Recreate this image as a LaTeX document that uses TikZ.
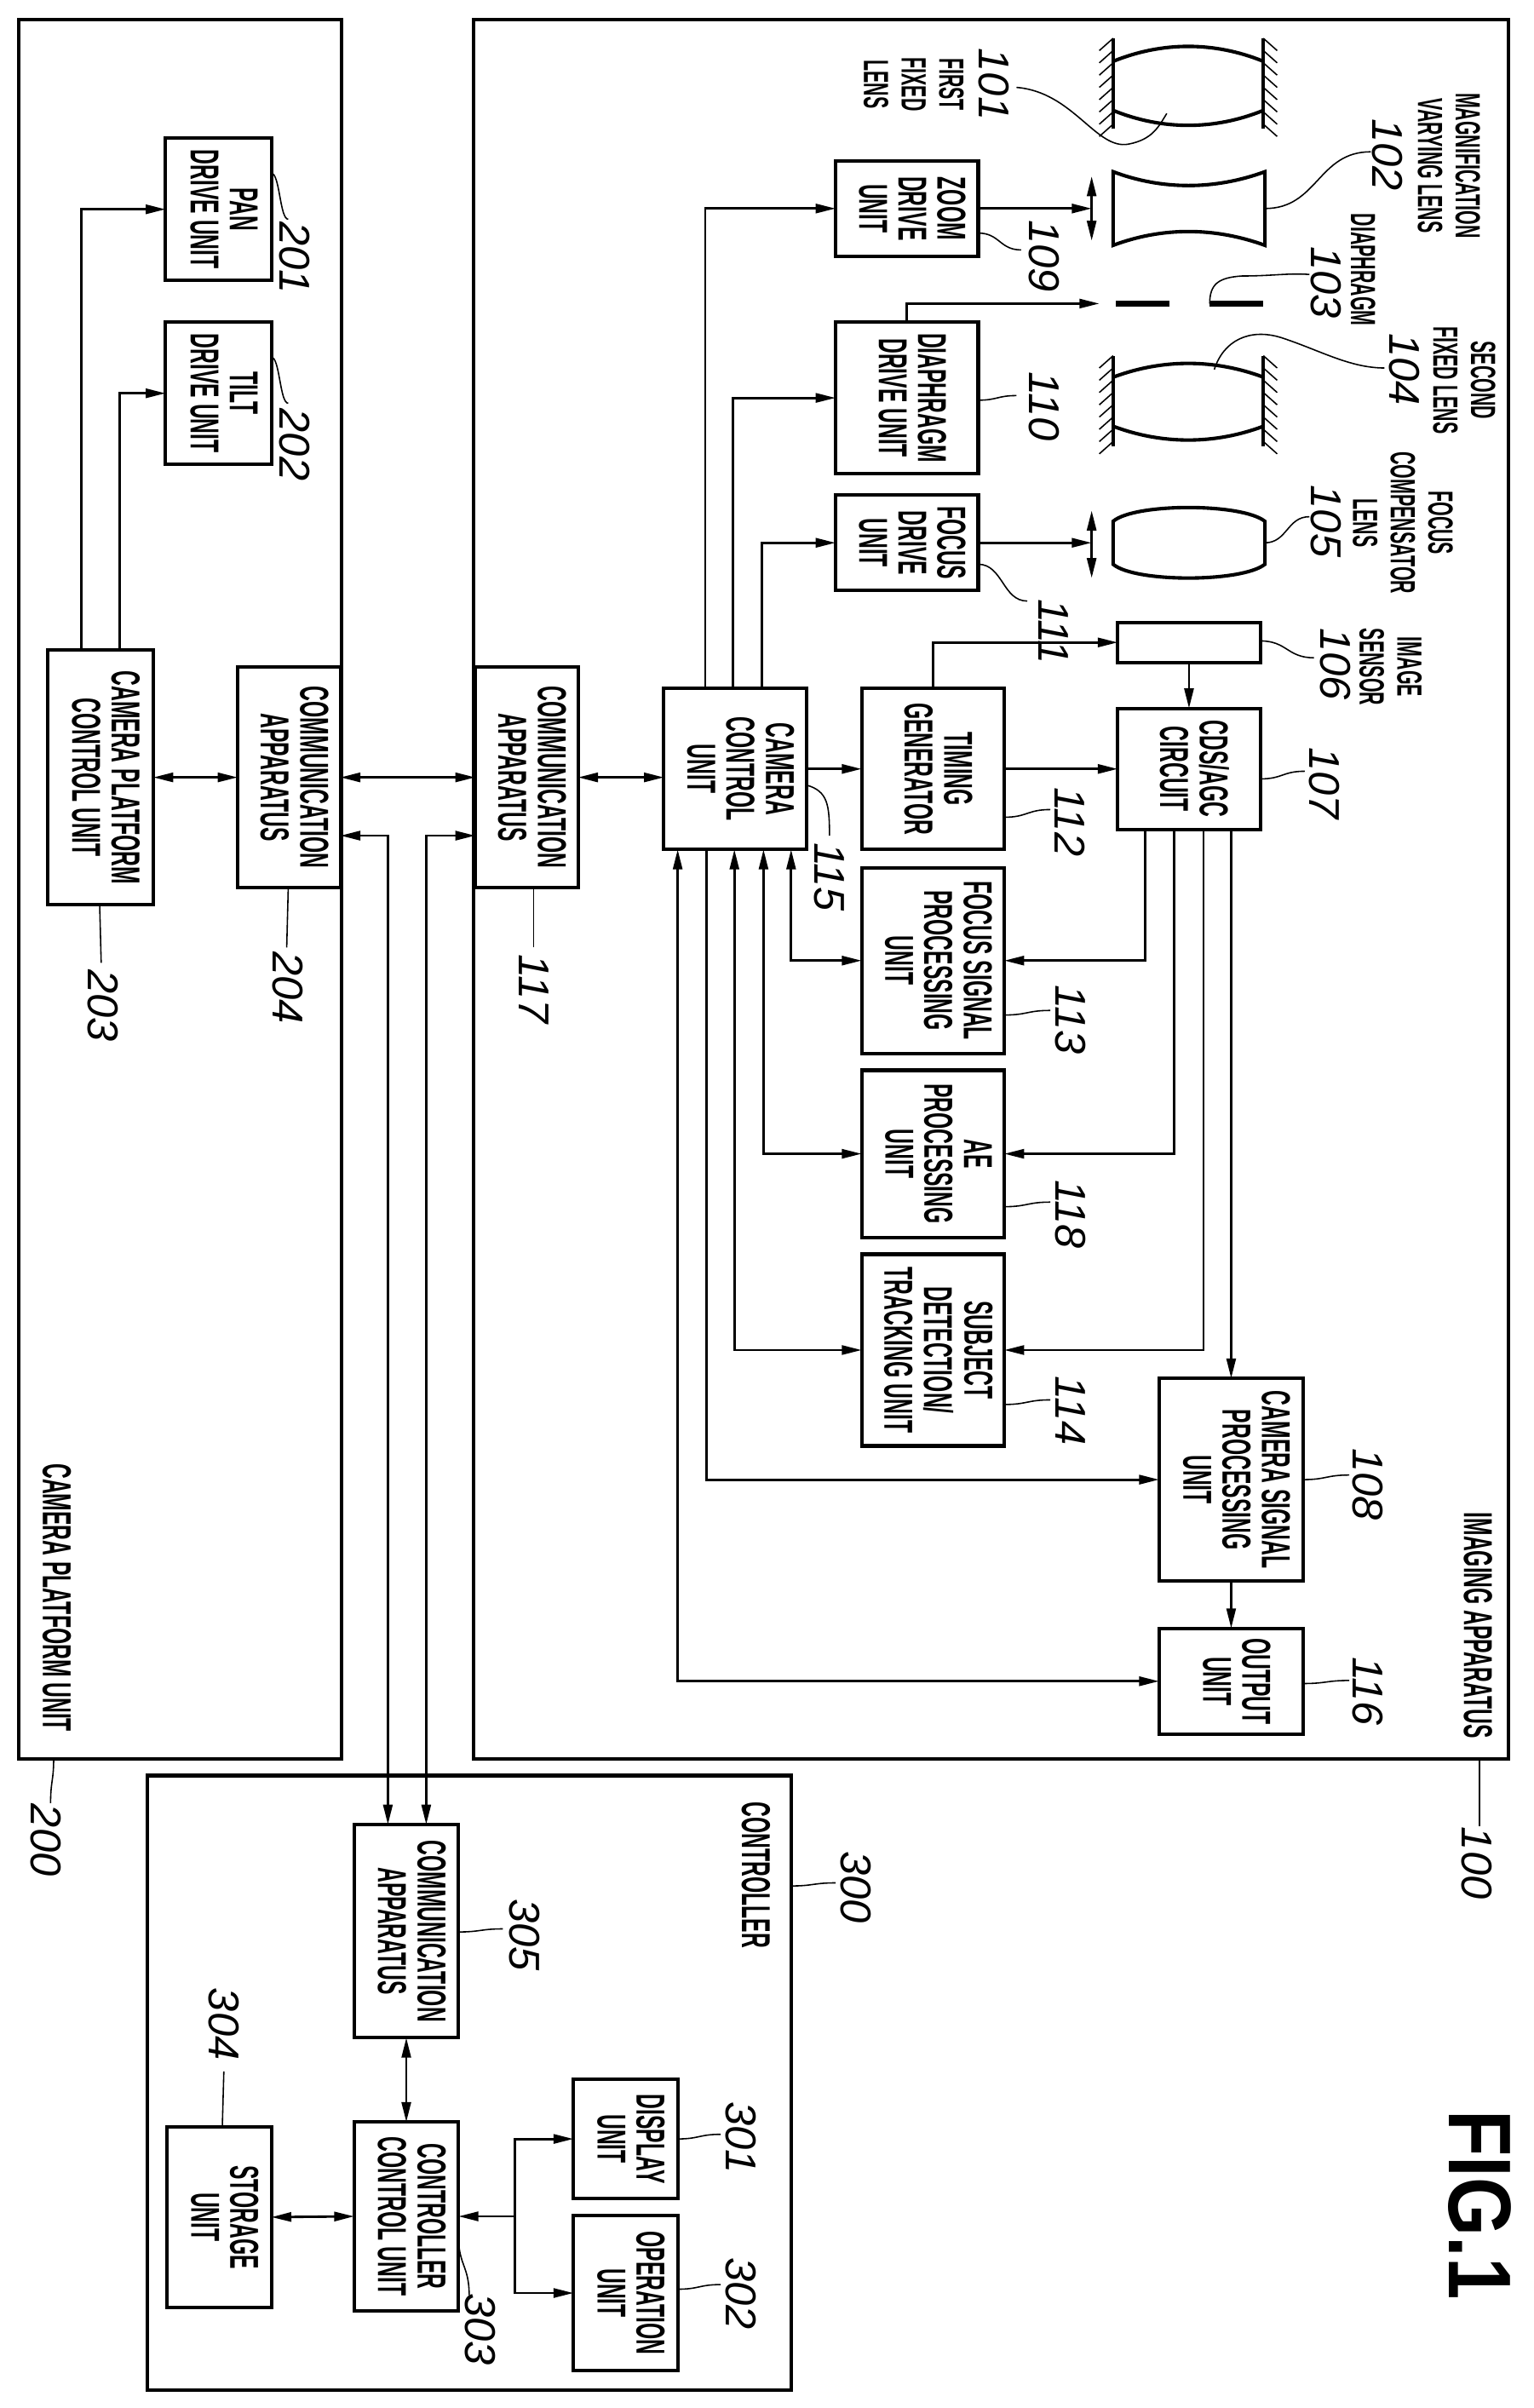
\documentclass[tikz,border=0pt]{standalone}
\usepackage{fontspec}
\setmainfont{Liberation Sans}
\newfontfamily\blkfont[FakeStretch=0.52]{Liberation Sans}
\newfontfamily\numfont{Liberation Sans}
\newfontfamily\figfont[FakeStretch=0.85]{Liberation Sans}
\usetikzlibrary{arrows.meta,calc}
\newcommand\blk[6]{\node[box,minimum width={(#4-#2)*0.02cm},minimum height={(#5-#3)*0.02cm}] (#1) at ({(#2+#4)/2},{(#3+#5)/2}) {\rotatebox{-90}{\begin{tabular}{@{}c@{}}#6\end{tabular}}};}
\newcommand\ldh[4]{\draw[lead] (#1,#2) .. controls ({(#1+#3)/2},#2) and ({(#1+#3)/2},#4) .. (#3,#4);}
\newcommand\ldv[4]{\draw[lead] (#1,#2) .. controls (#1,{(#2+#4)/2}) and (#3,{(#2+#4)/2}) .. (#3,#4);}
\begin{document}
\begin{tikzpicture}[x=0.02cm,y=-0.02cm,
  box/.style={draw,line width=1.3pt,inner sep=0pt,outer sep=0pt,font={\blkfont\bfseries\fontsize{15}{14}\selectfont}},
  con/.style={line width=0.9pt},
  arr/.style={con,-{Triangle[length=0.26cm,width=0.12cm]}},
  darr/.style={con,{Triangle[length=0.26cm,width=0.12cm]}-{Triangle[length=0.26cm,width=0.12cm]}},
  lead/.style={line width=0.5pt},
  num/.style={font={\numfont\itshape\fontsize{16}{16}\selectfont},rotate=-90,inner sep=0pt},
  lbl/.style={font={\blkfont\bfseries\fontsize{13}{14}\selectfont},rotate=-90,align=center,inner sep=0pt},
  title/.style={font={\blkfont\bfseries\fontsize{15}{15}\selectfont},rotate=-90,inner sep=0pt},
  frame/.style={line width=1.3pt},
  lens/.style={line width=1.3pt}]
\useasboundingbox (0,0) rectangle (1000,1570.5);
\fill[white] (0,0) rectangle (1000,1570.5);
% containers
\draw[frame] (12,13) rectangle (223,1147);
\draw[frame] (309,13) rectangle (984,1147);
\draw[frame] (96,1158) rectangle (516,1559);
% boxes
\blk{pan}{108}{90}{177}{183}{PAN\\DRIVE UNIT}
\blk{tilt}{108}{210}{177}{303}{TILT\\DRIVE UNIT}
\blk{ptc}{31}{424}{100}{590}{CAMERA PLATFORM\\CONTROL UNIT}
\blk{cp}{155}{435}{222}{579}{COMMUNICATION\\APPARATUS}
\blk{c117}{310}{435}{377}{579}{COMMUNICATION\\APPARATUS}
\blk{cc}{433}{449}{526}{554}{CAMERA\\CONTROL\\UNIT}
\blk{tg}{562}{449}{655}{554}{TIMING\\GENERATOR}
\blk{cds}{729}{462}{822}{541}{CDS/AGC\\CIRCUIT}
\blk{sens}{729}{406}{822}{432}{}
\blk{zd}{545}{105}{638}{167}{ZOOM\\DRIVE\\UNIT}
\blk{dd}{545}{210}{638}{309}{DIAPHRAGM\\DRIVE UNIT}
\blk{fd}{545}{323}{638}{385}{FOCUS\\DRIVE\\UNIT}
\blk{fsp}{562}{566}{655}{687}{FOCUS SIGNAL\\PROCESSING\\UNIT}
\blk{ae}{562}{698}{655}{807}{AE\\PROCESSING\\UNIT}
\blk{sdt}{562}{818}{655}{943}{SUBJECT\\DETECTION/\\TRACKING UNIT}
\blk{csp}{756}{899}{850}{1031}{CAMERA SIGNAL\\PROCESSING\\UNIT}
\blk{out}{756}{1062}{850}{1131}{OUTPUT\\UNIT}
\blk{c305}{231}{1190}{299}{1329}{COMMUNICATION\\APPARATUS}
\blk{ccu}{231}{1384}{299}{1507}{CONTROLLER\\CONTROL UNIT}
\blk{disp}{374}{1356}{442}{1434}{DISPLAY\\UNIT}
\blk{op}{374}{1445}{442}{1546}{OPERATION\\UNIT}
\blk{stor}{109}{1387}{177}{1505}{STORAGE\\UNIT}
% optics
\foreach \yy/\yb in {25/84,232/291}{
  \draw[lens] (726,\yy) -- (726,\yb);
  \draw[lens] (824,\yy) -- (824,\yb);
  \foreach \h in {0,8,...,56}{
    \draw[line width=0.5pt] (726,{\yy+\h}) -- (717,{\yy+\h+8});
    \draw[line width=0.5pt] (824,{\yy+\h}) -- (833,{\yy+\h+8});
  }
}
\draw[lens] (726,40) .. controls (758,27) and (792,27) .. (824,40);
\draw[lens] (726,72) .. controls (758,85) and (792,85) .. (824,72);
\draw[lens] (726,246) .. controls (758,234) and (792,234) .. (824,246);
\draw[lens] (726,278) .. controls (758,290) and (792,290) .. (824,278);
\draw[lens] (726,112) .. controls (758,124) and (792,124) .. (825,112) -- (825,160)
   .. controls (792,148) and (758,148) .. (726,160) -- cycle;
\draw[lens] (726,340) .. controls (740,328) and (810,328) .. (825,340) -- (825,368)
   .. controls (810,380) and (740,380) .. (726,368) -- cycle;
\draw[line width=2pt] (728,198) -- (763,198);
\draw[line width=2pt] (789,198) -- (824,198);
\coordinate (za1) at (712,115); \coordinate (za2) at (712,157);
\coordinate (fa1) at (712,333); \coordinate (fa2) at (712,377);
\coordinate (dia) at (717,198);
\draw[darr] (za1) -- (za2);
\draw[darr] (fa1) -- (fa2);
% connectors
\draw[arr] ([xshift=0.44cm]ptc.north west) |- (pan.west);
\draw[arr] ([xshift=0.94cm]ptc.north west) |- (tilt.west);
\draw[darr] (ptc.east) -- (cp.west);
\draw[darr] (cp.east) -- (c117.west);
\draw[darr] (c117.east) -- (c117.east -| cc.west);
\draw[darr] ([yshift=-0.76cm]cp.east) -| ([xshift=0.44cm]c305.north west);
\draw[darr] ([yshift=-0.76cm]c117.west) -| ([xshift=0.94cm]c305.north west);
\draw[arr] ([xshift=0.54cm]cc.north west) |- (zd.west);
\draw[arr] ([xshift=0.9cm]cc.north west) |- (dd.west);
\draw[arr] ([xshift=1.28cm]cc.north west) |- (fd.west);
\draw[arr] (zd.east) -- (zd.east -| za1);
\draw[arr] (dd.north) |- (dia);
\draw[arr] (fd.east) -- (fd.east -| fa1);
\draw[arr] (tg.north) |- (sens.west);
\draw[arr] (sens.south) -- (cds.north);
\draw[arr] (cc.east) -- (tg.west);
\draw[arr] (tg.east) -- (cds.west);
\draw[arr] ([xshift=0.36cm]cds.south west) |- (fsp.east);
\draw[arr] ([xshift=0.74cm]cds.south west) |- (ae.east);
\draw[arr] ([xshift=1.12cm]cds.south west) |- (sdt.east);
\draw[arr] (cds.south west -| csp.north) -- (csp.north);
\draw[darr] ([xshift=1.66cm]cc.south west) |- (fsp.west);
\draw[darr] ([xshift=1.3cm]cc.south west) |- (ae.west);
\draw[darr] ([xshift=0.92cm]cc.south west) |- (sdt.west);
\draw[darr] ([xshift=0.18cm]cc.south west) |- (out.west);
\draw[arr] ([xshift=0.56cm]cc.south west) |- (csp.west);
\draw[arr] (csp.south) -- (out.north);
\draw[darr] (c305.south) -- (ccu.north);
\draw[darr] (stor.east) -- (ccu.west);
\coordinate (j) at (336,1445.5);
\draw[arr] (j) -- (ccu.east);
\draw[arr] (j) |- (disp.west);
\draw[arr] (j) |- (op.west);
% leaders
\ldh{177}{113}{188}{143}
\ldh{177}{233}{188}{263}
\ldv{65}{590}{66}{628}
\ldv{188}{579}{187}{618}
\ldv{348}{579}{348}{618}
\draw[lead] (663,57) .. controls (700,60) and (715,98) .. (736,94) .. controls (752,91) and (756,82) .. (761,74);
\ldh{825}{136}{894}{99}
\draw[lead] (789,198) .. controls (789,185) and (795,181) .. (810,180) .. controls (830,180) and (840,178) .. (854,179);
\draw[lead] (792,241) .. controls (798,222) and (815,214) .. (835,220) .. controls (860,228) and (880,240) .. (903,240);
\ldh{825}{354}{854}{337}
\ldh{822}{418}{857}{429}
\ldh{822}{508}{851}{503}
\ldh{850}{965}{880}{962}
\ldh{850}{1098}{880}{1096}
\ldh{638}{152}{666}{163}
\ldh{638}{261}{663}{258}
\ldh{638}{368}{670}{392}
\ldh{655}{533}{685}{528}
\ldh{655}{662}{685}{659}
\ldh{655}{787}{685}{784}
\ldh{655}{916}{685}{913}
\draw[lead] (526,512) .. controls (540,516) and (541,525) .. (541,545);
\ldv{965}{1147}{965}{1191}
\ldv{35}{1147}{33}{1176}
\ldh{516}{1230}{545}{1228}
\ldh{299}{1260}{328}{1258}
\ldv{145}{1387}{146}{1351}
\ldv{299}{1458}{306}{1497}
\ldh{442}{1395}{470}{1392}
\ldh{442}{1493}{470}{1490}
% reference numerals
\node[num] (n201) at (192,168) {201};
\node[num] (n202) at (192,290) {202};
\node[num] (n203) at (67,656) {203};
\node[num] (n204) at (188,644) {204};
\node[num] (n117) at (348,645) {117};
\node[num] (n101) at (648,55) {101};
\node[num] (n102) at (905,101) {102};
\node[num] (n103) at (865,184) {103};
\node[num] (n104) at (916,241) {104};
\node[num] (n105) at (865,340) {105};
\node[num] (n106) at (871,433) {106};
\node[num] (n107) at (864,511) {107};
\node[num] (n108) at (892,968) {108};
\node[num] (n116) at (892,1103) {116};
\node[num] (n109) at (681,167) {109};
\node[num] (n110) at (681,265) {110};
\node[num] (n111) at (687,412) {111};
\node[num] (n112) at (698,536) {112};
\node[num] (n113) at (698,665) {113};
\node[num] (n118) at (698,792) {118};
\node[num] (n114) at (698,920) {114};
\node[num] (n115) at (541,572) {115};
\node[num] (n100) at (963,1215) {100};
\node[num] (n200) at (30,1200) {200};
\node[num] (n300) at (558,1231) {300};
\node[num] (n305) at (342,1262) {305};
\node[num] (n304) at (146,1320) {304};
\node[num] (n303) at (313,1519) {303};
\node[num] (n301) at (483,1394) {301};
\node[num] (n302) at (483,1496) {302};
% text labels
\node[lbl] (t101) at (596,55) {FIRST\\FIXED\\LENS};
\node[lbl] (t102) at (945,108) {MAGNIFICATION\\VARYING LENS};
\node[lbl] (t103) at (889,176) {DIAPHRAGM};
\node[lbl] (t104) at (955,248) {SECOND\\FIXED LENS};
\node[lbl] (t105) at (915,341) {FOCUS\\COMPENSATOR\\LENS};
\node[lbl] (t106) at (907,435) {IMAGE\\SENSOR};
\node[title] (t100) at (964,1060) {IMAGING APPARATUS};
\node[title] (t300) at (493,1223) {CONTROLLER};
\node[title] (t200) at (37,1042) {CAMERA PLATFORM UNIT};
\node[rotate=-90,inner sep=0pt,font={\figfont\bfseries\fontsize{33}{33}\selectfont}] (fig) at (965,1438) {FIG.1};
\end{tikzpicture}
\end{document}
